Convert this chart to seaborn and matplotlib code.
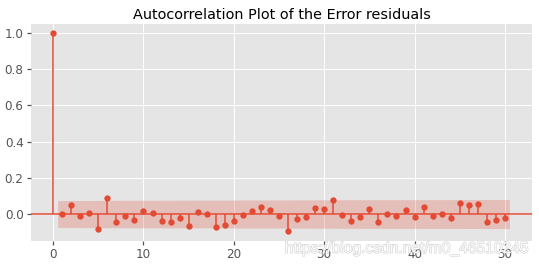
import numpy as np
import pandas as pd
import matplotlib
matplotlib.use("Agg")
import matplotlib.pyplot as plt
import matplotlib.patheffects as pe
import seaborn as sns

lags = list(range(0, 51))
acf_values = [1.0, 0.0, 0.048, -0.011, 0.004, -0.08, 0.087, -0.046, -0.011, -0.035,
              0.015, 0.004, -0.04, -0.046, -0.024, -0.068, 0.009, -0.002, -0.073, -0.062,
              -0.04, -0.007, 0.015, 0.037, 0.02, -0.013, -0.096, -0.029, -0.018, 0.031,
              0.026, 0.076, -0.007, -0.04, -0.018, 0.026, -0.046, -0.002, -0.013, 0.02,
              -0.018, 0.037, -0.013, -0.002, -0.024, 0.059, 0.048, 0.054, -0.046, -0.035,
              -0.024]
n_obs = 690
title = "Autocorrelation Plot of the Error residuals"
watermark = "https://blog.csdn.net/m0_46510245"
xticks = [0, 10, 20, 30, 40, 50]
yticks = [0.0, 0.2, 0.4, 0.6, 0.8, 1.0]

sns.set_theme(style="darkgrid", rc={
    "axes.facecolor": "#E5E5E5",
    "grid.color": "white",
    "grid.linewidth": 1.0,
    "axes.edgecolor": "white",
    "xtick.color": "#555555",
    "ytick.color": "#555555",
    "xtick.major.size": 4,
    "ytick.major.size": 4,
    "xtick.bottom": True,
    "ytick.left": True,
})
plt.rcParams['font.family'] = ['DejaVu Sans']

color = "#E24A33"
df = pd.DataFrame({"lag": lags, "acf": acf_values})

# Bartlett confidence band
acf_arr = np.array(acf_values)
varacf = np.ones(len(acf_arr)) / n_obs
varacf[0] = 0
varacf[1] = 1.0 / n_obs
varacf[2:] *= 1 + 2 * np.cumsum(acf_arr[1:-1] ** 2)
half = 1.96 * np.sqrt(varacf)

fig = plt.figure(figsize=(539 / 72, 265 / 72), dpi=72)
ax = fig.add_axes([31 / 539, 1 - 241 / 265, (532 - 31) / 539, (241 - 24) / 265])

ax.axhline(0, color=color, lw=1.5, zorder=1)
ax.vlines(df["lag"], 0, df["acf"], color=color, lw=1.5, zorder=2)
sns.scatterplot(data=df, x="lag", y="acf", color=color, s=40, edgecolor=color,
                linewidth=0, ax=ax, zorder=3)
band_x = np.array(lags[1:], dtype=float)
band_x[0] -= 0.5
band_x[-1] += 0.5
ax.fill_between(band_x, -half[1:], half[1:], color=color, alpha=0.25, linewidth=0, zorder=1)

ax.set_xlim(-2.45, 53.0)
ax.set_ylim(-0.149, 1.05)
ax.set_xticks(xticks)
ax.set_yticks(yticks)
ax.tick_params(labelsize=12)
ax.set_xlabel("")
ax.set_ylabel("")
ax.set_title(title, fontsize=14.4, color="black", pad=5)
for s in ax.spines.values():
    s.set_visible(False)

fig.text(529 / 539, 1 - 256 / 265, watermark, ha="right", va="bottom",
         color="white", alpha=0.9, fontsize=15.6, family=["Liberation Sans", "DejaVu Sans"],
         path_effects=[pe.withStroke(linewidth=1.2, foreground="#cfcfcf")])

fig.savefig("out.png", dpi=72)
